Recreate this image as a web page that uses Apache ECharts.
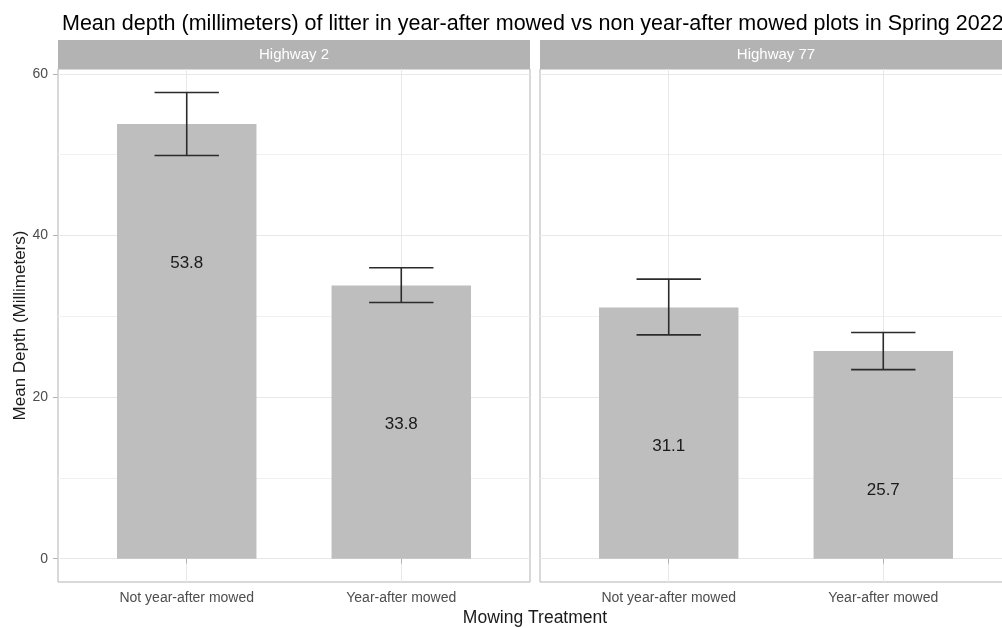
<!DOCTYPE html>
<html>
<head>
<meta charset="utf-8">
<script src="https://cdn.jsdelivr.net/npm/echarts@6/dist/echarts.min.js"></script>
<style>
html, body { margin: 0; background: #fff; }
#chart { width: 1002px; height: 628px; }
</style>
</head>
<body>
<div id="chart"></div>
<script>
// data
const treatments = ['Not year-after mowed', 'Year-after mowed'];
const panels = ['Highway 2', 'Highway 77'];
const hw2Mean = [53.8, 33.8];
const hw2Low = [49.9, 31.7];
const hw2High = [57.7, 36.0];
const hw77Mean = [31.1, 25.7];
const hw77Low = [27.7, 23.4];
const hw77High = [34.6, 28.0];
const yTicks = [0, 20, 40, 60];
const yMinor = [10, 30, 50];

const FONT = '"Liberation Sans", Arial, sans-serif';
const GRID_TOP = 69, GRID_H = 513, GRID_W = 472;
const gridLefts = [58, 540];
const Y_MIN = -2.885, Y_MAX = 60.6;

const chart = echarts.init(document.getElementById('chart'));

function renderBar(params, api) {
    const x = api.value(0), y = api.value(1);
    const tl = api.coord([x - 0.325, y]);
    const br = api.coord([x + 0.325, 0]);
    return {
        type: 'group',
        children: [
            {type: 'rect', shape: {x: tl[0], y: tl[1], width: br[0] - tl[0], height: br[1] - tl[1]},
             style: {fill: '#bebebe'}},
            {type: 'text', x: (tl[0] + br[0]) / 2, y: tl[1] + 139,
             style: {text: y.toFixed(1), fill: '#1a1a1a', font: '17px ' + FONT, align: 'center', verticalAlign: 'middle'}}
        ]
    };
}

function renderErr(params, api) {
    const x = api.value(0);
    const lo = api.coord([x, api.value(1)]);
    const hi = api.coord([x, api.value(2)]);
    const half = api.size([0.15, 0])[0];
    const st = {stroke: '#2b2b2b', lineWidth: 1.6};
    return {
        type: 'group',
        children: [
            {type: 'line', shape: {x1: lo[0], y1: lo[1], x2: hi[0], y2: hi[1]}, style: st},
            {type: 'line', shape: {x1: lo[0] - half, y1: lo[1], x2: lo[0] + half, y2: lo[1]}, style: st},
            {type: 'line', shape: {x1: hi[0] - half, y1: hi[1], x2: hi[0] + half, y2: hi[1]}, style: st}
        ]
    };
}

const means = [hw2Mean, hw77Mean];
const lows = [hw2Low, hw77Low];
const highs = [hw2High, hw77High];

const grids = [], xAxes = [], yAxes = [], series = [], graphics = [];
gridLefts.forEach(function (left, i) {
    grids.push({left: left, top: GRID_TOP, width: GRID_W, height: GRID_H,
        outerBoundsMode: 'none', containLabel: false,
        show: true, borderColor: '#b3b3b3', borderWidth: 1, backgroundColor: '#fff'});
    xAxes.push({
        type: 'value', gridIndex: i, min: 0.4, max: 2.6,
        axisLine: {show: false},
        axisTick: {show: true, length: 5, customValues: [1, 2], lineStyle: {color: '#b3b3b3'}},
        axisLabel: {customValues: [1, 2], formatter: function (v) { return treatments[Math.round(v) - 1]; },
            color: '#4d4d4d', fontSize: 14, fontFamily: FONT, margin: 9},
        splitLine: {show: true, lineStyle: {color: '#e8e8e8', width: 1}}
    });
    // major y axis
    yAxes.push({
        type: 'value', gridIndex: i, min: Y_MIN, max: Y_MAX,
        name: i === 0 ? 'Mean Depth (Millimeters)' : '',
        nameLocation: 'middle', nameGap: 29, nameRotate: 90,
        nameTextStyle: {color: '#1a1a1a', fontSize: 17, fontFamily: FONT},
        axisLine: {show: false},
        axisTick: {show: i === 0, length: 5, customValues: yTicks, lineStyle: {color: '#b3b3b3'}},
        axisLabel: {show: i === 0, customValues: yTicks, color: '#4d4d4d', fontSize: 14, fontFamily: FONT, margin: 10},
        splitLine: {show: true, lineStyle: {color: '#e8e8e8', width: 1}}
    });
    // minor grid lines
    yAxes.push({
        type: 'value', gridIndex: i, min: Y_MIN, max: Y_MAX, position: 'left',
        axisLine: {show: false},
        axisTick: {show: false, customValues: yMinor},
        axisLabel: {show: false, customValues: yMinor},
        splitLine: {show: true, lineStyle: {color: '#f0f0f0', width: 1}}
    });
    series.push({
        type: 'custom', xAxisIndex: i, yAxisIndex: i * 2, renderItem: renderBar, clip: true,
        encode: {x: 0, y: 1},
        data: means[i].map(function (m, k) { return [k + 1, m]; }),
        z: 2
    });
    series.push({
        type: 'custom', xAxisIndex: i, yAxisIndex: i * 2, renderItem: renderErr, clip: true,
        encode: {x: 0, y: [1, 2]},
        data: lows[i].map(function (lo, k) { return [k + 1, lo, highs[i][k]]; }),
        z: 3
    });
    graphics.push({type: 'rect', left: left, top: 40, shape: {width: GRID_W, height: 29},
        style: {fill: '#b3b3b3'}, silent: true});
    graphics.push({type: 'text', x: left + GRID_W / 2, y: 55,
        style: {text: panels[i], fill: '#fff', font: '15px ' + FONT, align: 'center', verticalAlign: 'middle'}});
});

graphics.push({type: 'text', x: 535, y: 618,
    style: {text: 'Mowing Treatment', fill: '#1a1a1a', font: '17.5px ' + FONT, align: 'center', verticalAlign: 'middle'}});

chart.setOption({
    animation: false,
    backgroundColor: '#fff',
    title: {
        text: 'Mean depth (millimeters) of litter in year-after mowed vs non year-after mowed plots in Spring 2022',
        left: 57, top: 8,
        textStyle: {color: '#000', fontSize: 21.5, fontWeight: 'normal', fontFamily: FONT}
    },
    grid: grids,
    xAxis: xAxes,
    yAxis: yAxes,
    series: series,
    graphic: graphics
});
</script>
</body>
</html>
